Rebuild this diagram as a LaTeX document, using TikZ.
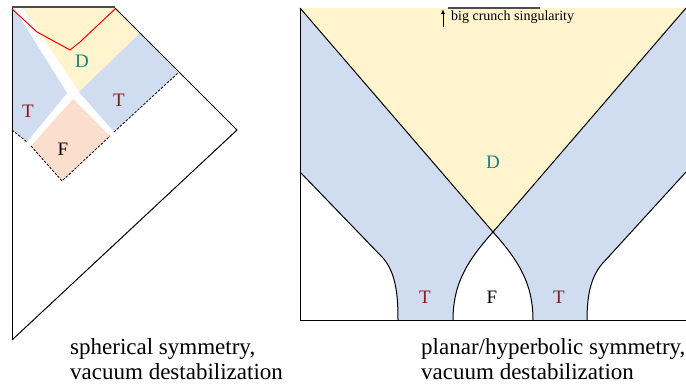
\documentclass[tikz,border=0pt]{standalone}
\usepackage{fontspec}
\setmainfont{Liberation Serif}
\usetikzlibrary{arrows.meta}
\definecolor{crunchyellow}{RGB}{255,244,206}
\definecolor{tunnelblue}{RGB}{208,221,241}
\definecolor{falsepeach}{RGB}{252,222,206}
\definecolor{dteal}{RGB}{25,130,125}
\definecolor{tred}{RGB}{135,25,30}

\begin{document}
\begin{tikzpicture}[x=1pt,y=-1pt,
  wall/.style={line width=1pt},
  sing/.style={line width=1.6pt, black!70},
  horizon/.style={line width=0.8pt, dash pattern=on 2.5pt off 1.5pt},
  regD/.style={text=dteal, font=\fontsize{19}{19}\selectfont},
  regT/.style={text=tred, font=\fontsize{19}{19}\selectfont},
  regF/.style={text=black, font=\fontsize{19}{19}\selectfont},
  caption/.style={anchor=north west, align=left, inner sep=0pt, font=\fontsize{23}{25}\selectfont}]
\useasboundingbox (0,0) rectangle (686,385);

% spherical symmetry
\fill[tunnelblue] (12,8) -- (14,8) -- (67,93) -- (27,142) -- (12,130) -- cycle;
\fill[crunchyellow] (23,8) -- (115,8) -- (140,33) -- (79,92) -- cycle;
\fill[tunnelblue] (79,92) -- (140,33) -- (178,73) -- (114,132) -- cycle;
\fill[falsepeach] (73,99) -- (110,136) -- (62,181) -- (31,146) -- cycle;
\draw[horizon] (12,130) -- (27,142);
\draw[horizon] (31,146) -- (62,181) -- (110,136);
\draw[horizon] (114,132) -- (178,73);
\draw[wall] (12,340) -- (12,8);
\draw[wall] (115,8) -- (237,130) -- (12,340);
\draw[sing] (12,7) -- (115,7);
\draw[red, line width=1pt] (12,9) -- (37,32) -- (70,50) -- (80,42) -- (115,9);
\node[regD] (sphD) at (82,61) {D};
\node[regT] (sphTl) at (28,111) {T};
\node[regT] (sphTr) at (119,100) {T};
\node[regF] (sphF) at (63,149) {F};
\node[caption] (capSph) at (70,338) {spherical symmetry,\\vacuum destabilization};

% planar/hyperbolic symmetry
\fill[crunchyellow] (300,8) -- (686,8) -- (493,232) -- cycle;
\fill[tunnelblue] (300,8) -- (493,232) .. controls (466,262) and (453,285) .. (453,320)
  -- (398,320) .. controls (398,295) and (396,273) .. (383,258) -- (300,172) -- cycle;
\fill[tunnelblue] (686,8) -- (493,232) .. controls (520,262) and (533,285) .. (533,320)
  -- (587,320) .. controls (587,298) and (590,278) .. (602,264) -- (686,172) -- cycle;
\draw[wall] (300,8) -- (493,232) .. controls (520,262) and (533,285) .. (533,320);
\draw[wall] (686,8) -- (493,232) .. controls (466,262) and (453,285) .. (453,320);
\draw[wall] (300,172) -- (383,258) .. controls (396,273) and (398,295) .. (398,320);
\draw[wall] (686,172) -- (602,264) .. controls (590,278) and (587,298) .. (587,320);
\draw[wall] (300,8) -- (300,320) -- (686,320);
\draw[sing] (448,8) -- (540,8);
\coordinate (arrowfoot) at (443,27);
\coordinate (arrowtip) at (443,9);
\draw[-{Latex[length=5pt,width=4pt]}, line width=1pt] (arrowfoot) -- (arrowtip);
\node[anchor=west, inner sep=0pt, font=\fontsize{14}{14}\selectfont] (crunch) at (451,17) {big crunch singularity};
\node[regD] (plaD) at (493,162) {D};
\node[regT] (plaTl) at (425,297) {T};
\node[regF] (plaF) at (492,297) {F};
\node[regT] (plaTr) at (559,297) {T};
\node[caption] (capPla) at (421,338) {planar/hyperbolic symmetry,\\vacuum destabilization};
\end{tikzpicture}
\end{document}
